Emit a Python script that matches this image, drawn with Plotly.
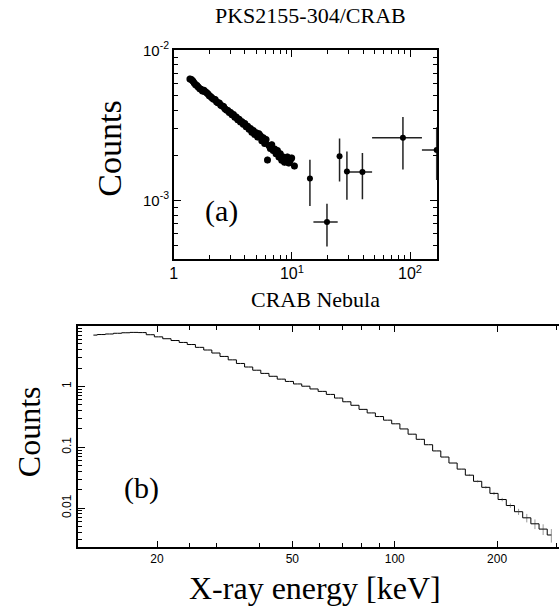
import plotly.graph_objects as go

# ---------------- Panel (a): PKS2155-304 / CRAB ratio ----------------
pks_energy = [1.37, 1.41, 1.45, 1.49, 1.53, 1.57, 1.61, 1.66, 1.70, 1.75, 1.80, 1.85, 1.90, 1.95,
              2.00, 2.06, 2.12, 2.18, 2.24, 2.30, 2.36, 2.43, 2.50, 2.57, 2.64, 2.71, 2.79, 2.87,
              2.95, 3.03, 3.11, 3.20, 3.29, 3.38, 3.48, 3.57, 3.67, 3.78, 3.88, 3.99, 4.10, 4.22,
              4.34, 4.46, 4.58, 4.71, 4.84, 4.98, 5.12, 5.26, 5.41, 5.56, 5.72, 5.88, 6.04, 6.21,
              6.39, 6.57, 6.75, 6.94, 7.14, 7.34, 7.54, 7.76, 7.97, 8.20, 8.43, 8.66, 8.91, 9.16,
              9.41, 9.68, 9.95, 10.5]
pks_ratio_e3 = [6.44, 6.40, 6.25, 6.05, 5.90, 5.82, 5.70, 5.55, 5.50, 5.35, 5.42, 5.30, 5.22, 5.12,
                4.98, 4.90, 4.80, 4.72, 4.70, 4.55, 4.48, 4.45, 4.30, 4.25, 4.22, 4.08, 4.00, 3.98,
                3.86, 3.85, 3.72, 3.74, 3.58, 3.60, 3.45, 3.48, 3.33, 3.35, 3.22, 3.25, 3.10, 3.12,
                2.98, 3.02, 2.85, 2.92, 2.75, 2.82, 2.65, 2.78, 2.70, 2.50, 2.62, 2.40, 2.55, 1.86,
                2.32, 2.22, 2.35, 2.15, 2.20, 2.05, 2.15, 1.95, 2.05, 1.85, 1.95, 1.80, 1.82, 1.95,
                1.78, 1.85, 1.92, 1.70]

pks_hi_energy = [14.2, 19.8, 25.3, 29.2, 39.5, 87.0, 168.0]
pks_hi_ratio = [1.40e-3, 7.2e-4, 1.97e-3, 1.56e-3, 1.55e-3, 2.62e-3, 2.17e-3]
pks_hi_err_up = [0.47e-3, 0.23e-3, 0.62e-3, 0.56e-3, 0.52e-3, 0.98e-3, 0.9e-3]
pks_hi_err_dn = [0.48e-3, 0.225e-3, 0.63e-3, 0.55e-3, 0.53e-3, 1.01e-3, 0.8e-3]
pks_hi_ex_lo = [0.5, 4.6, 0.5, 0.8, 10.5, 39.3, 42.0]
pks_hi_ex_hi = [0.5, 4.6, 0.5, 0.8, 8.2, 39.0, 42.0]

# ---------------- Panel (b): CRAB Nebula spectrum ----------------
crab_energy = [13.0, 13.7, 14.5, 15.3, 16.2, 17.1, 18.1, 19.1, 20.2, 21.4, 22.6, 23.9, 25.2, 26.7,
               28.2, 29.8, 31.5, 33.3, 35.2, 37.2, 39.3, 41.5, 43.9, 46.4, 49.0, 51.8, 54.8, 57.9,
               61.2, 64.7, 68.4, 72.3, 76.4, 80.7, 85.3, 90.2, 95.3, 100.7, 106.5, 112.5, 118.9,
               125.7, 132.9, 140.4, 148.4, 156.9, 165.8, 175.3, 185.3, 195.8, 207.0, 218.8, 231.3,
               244.5, 258.4, 273.1, 288.7]
crab_counts = [7.0, 7.15, 7.3, 7.5, 7.65, 7.75, 7.7, 7.1, 6.55, 6.1, 5.7, 5.3, 4.9, 4.4,
               3.98, 3.55, 3.12, 2.74, 2.39, 2.09, 1.85, 1.64, 1.47, 1.32, 1.21, 1.10, 1.01, 0.91,
               0.83, 0.74, 0.645, 0.56, 0.49, 0.42, 0.367, 0.32, 0.279, 0.243, 0.20, 0.164, 0.135,
               0.11, 0.087, 0.069, 0.055, 0.0437, 0.0347, 0.0275, 0.0219, 0.0174, 0.0138, 0.011,
               0.0087, 0.0069, 0.0055, 0.0045, 0.0036]
crab_err = [0, 0, 0, 0, 0, 0, 0, 0, 0, 0, 0, 0, 0, 0,
            0, 0, 0, 0, 0, 0, 0, 0, 0, 0, 0, 0, 0, 0,
            0, 0, 0, 0, 0, 0, 0, 0, 0, 0, 0, 0, 0,
            0, 0, 0, 0, 0, 0.0012, 0.0011, 0.0010, 0.0010, 0.0009, 0.0009,
            0.0010, 0.0011, 0.0010, 0.0009, 0.0009]

pks_ratio = [v * 1e-3 for v in pks_ratio_e3]

SERIF = "Liberation Serif, Times New Roman, serif"
SANS = "Liberation Sans, Arial, sans-serif"

fig = go.Figure()

fig.add_trace(go.Scatter(
    x=pks_energy, y=pks_ratio, mode="markers",
    marker=dict(color="black", size=7),
    error_y=dict(type="percent", value=5, color="#333", thickness=1.2, width=0),
    xaxis="x", yaxis="y", showlegend=False))

fig.add_trace(go.Scatter(
    x=pks_hi_energy, y=pks_hi_ratio, mode="markers",
    marker=dict(color="black", size=6),
    error_y=dict(type="data", array=pks_hi_err_up, arrayminus=pks_hi_err_dn,
                 color="#222", thickness=1.5, width=0),
    error_x=dict(type="data", array=pks_hi_ex_hi, arrayminus=pks_hi_ex_lo,
                 color="#222", thickness=1.5, width=0),
    xaxis="x", yaxis="y", showlegend=False))

fig.add_trace(go.Scatter(
    x=crab_energy, y=crab_counts, mode="lines",
    line=dict(color="black", width=1, shape="hvh"),
    error_y=dict(type="data", array=crab_err, color="#999", thickness=1, width=0),
    xaxis="x2", yaxis="y2", showlegend=False))

axis_common = dict(type="log", showline=True, linecolor="black", linewidth=1.5,
                   ticks="inside", tickcolor="black", showgrid=False, zeroline=False)

fig.update_layout(
    width=559, height=615,
    margin=dict(l=0, r=0, t=0, b=0),
    paper_bgcolor="white", plot_bgcolor="white",
    xaxis=dict(axis_common, domain=[0.3059, 0.78], anchor="y", range=[0, 2.227],
               mirror="ticks", tickvals=[1, 10, 100],
               ticktext=["1", "10<sup>1</sup>", "10<sup>2</sup>"], ticklen=7,
               tickfont=dict(family=SANS, size=16, color="black"),
               minor=dict(ticks="inside", ticklen=4, tickcolor="black",
                          tickvals=[2, 3, 4, 5, 6, 7, 8, 9, 20, 30, 40, 50, 60, 70, 80, 90])),
    yaxis=dict(axis_common, domain=[0.5902, 0.935], anchor="x", range=[-3.386, -2],
               mirror="ticks", tickvals=[1e-3, 1e-2],
               ticktext=["10<sup>-3</sup>", "10<sup>-2</sup>"], ticklen=7,
               tickfont=dict(family=SANS, size=15, color="black"),
               minor=dict(ticks="inside", ticklen=4, tickcolor="black",
                          tickvals=[5e-4, 6e-4, 7e-4, 8e-4, 9e-4, 2e-3, 3e-3, 4e-3, 5e-3,
                                    6e-3, 7e-3, 8e-3, 9e-3])),
    xaxis2=dict(axis_common, domain=[0.1329, 1.0], anchor="y2", range=[1.068, 2.483],
                mirror="ticks", tickvals=[20, 50, 100, 200],
                ticktext=["20", "50", "100", "200"], ticklen=6,
                tickfont=dict(family=SANS, size=12, color="black"),
                minor=dict(ticks="inside", ticklen=4, tickcolor="black",
                           tickvals=[25, 30, 40, 60, 70, 80, 90, 300])),
    yaxis2=dict(axis_common, domain=[0.1127, 0.4785], anchor="x2", range=[-2.64, 0.995],
                mirror=False, tickvals=[0.01, 0.1, 1], ticktext=["0.01", "0.1", "1"],
                tickangle=-90, ticklen=7,
                tickfont=dict(family=SANS, size=12, color="black"),
                minor=dict(ticks="inside", ticklen=4, tickcolor="black",
                           tickvals=[0.002, 0.003, 0.004, 0.005, 0.006, 0.007, 0.008, 0.009,
                                     0.02, 0.03, 0.04, 0.05, 0.06, 0.07, 0.08, 0.09,
                                     0.2, 0.3, 0.4, 0.5, 0.6, 0.7, 0.8, 0.9,
                                     2, 3, 4, 5, 6, 7, 8, 9])),
    annotations=[
        dict(text="PKS2155-304/CRAB", x=308.5 / 559, y=1 - 5 / 615, xref="paper", yref="paper",
             showarrow=False, xanchor="center", yanchor="middle",
             font=dict(family=SERIF, size=22, color="black")),
        dict(text="Counts", x=106 / 559, y=1 - 140 / 615, xref="paper", yref="paper",
             showarrow=False, textangle=-90, xanchor="center", yanchor="middle",
             font=dict(family=SERIF, size=34, color="black")),
        dict(text="(a)", x=219.5 / 559, y=1 - 204 / 615, xref="paper", yref="paper",
             showarrow=False, xanchor="center", yanchor="middle",
             font=dict(family=SERIF, size=30, color="black")),
        dict(text="CRAB Nebula", x=314 / 559, y=1 - 294 / 615, xref="paper", yref="paper",
             showarrow=False, xanchor="center", yanchor="middle",
             font=dict(family=SERIF, size=22, color="black")),
        dict(text="Counts", x=26 / 559, y=1 - 428 / 615, xref="paper", yref="paper",
             showarrow=False, textangle=-90, xanchor="center", yanchor="middle",
             font=dict(family=SERIF, size=32, color="black")),
        dict(text="(b)", x=138.7 / 559, y=1 - 486 / 615, xref="paper", yref="paper",
             showarrow=False, xanchor="center", yanchor="middle",
             font=dict(family=SERIF, size=30, color="black")),
        dict(text="X-ray energy [keV]", x=313 / 559, y=1 - 588 / 615, xref="paper", yref="paper",
             showarrow=False, xanchor="center", yanchor="middle",
             font=dict(family=SERIF, size=32, color="black")),
    ],
)

fig.write_html(
    "out.html",
    config={"displayModeBar": False},
    post_script="document.body.style.margin='0';document.body.style.overflow='hidden';",
)
